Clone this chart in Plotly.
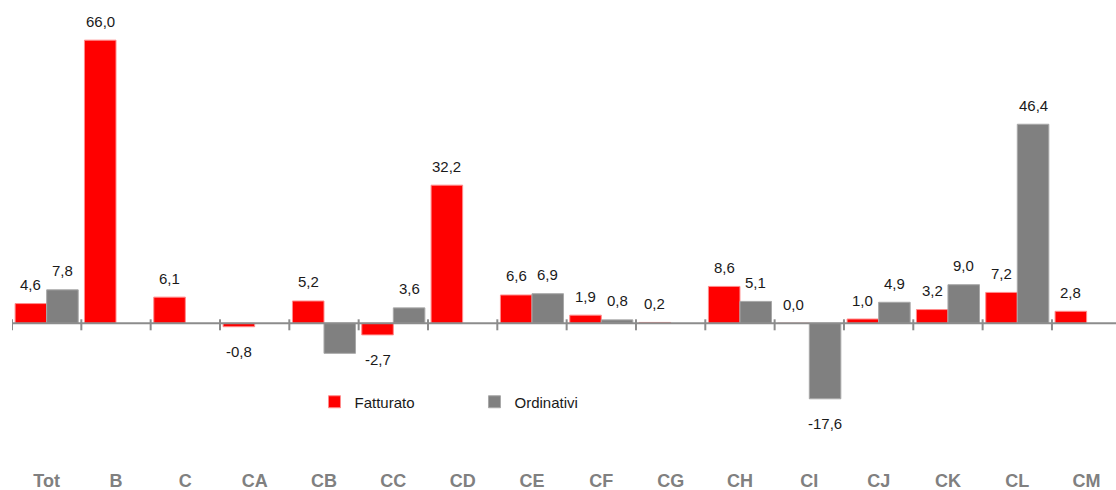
import plotly.graph_objects as go

categories = ["Tot", "B", "C", "CA", "CB", "CC", "CD", "CE", "CF", "CG",
              "CH", "CI", "CJ", "CK", "CL", "CM"]
fatturato = [4.6, 66.0, 6.1, -0.8, 5.2, -2.7, 32.2, 6.6, 1.9, 0.2,
             8.6, 0.0, 1.0, 3.2, 7.2, 2.8]
ordinativi = [7.8, None, None, None, -7.0, 3.6, None, 6.9, 0.8, None,
              5.1, -17.6, 4.9, 9.0, 46.4, None]
ordinativi_hidden_labels = ["CB"]

RED = "#ff0000"
GRAY = "#808080"
FONT = "Liberation Sans, Arial, sans-serif"
BARGAP = 0.09

fig = go.Figure()
fig.add_trace(go.Bar(name="Fatturato", x=categories, y=fatturato,
                     marker=dict(color=RED, line=dict(color="#ff8c8c", width=1))))
fig.add_trace(go.Bar(name="Ordinativi", x=categories, y=ordinativi,
                     marker=dict(color=GRAY, line=dict(color="#a8a8a8", width=1))))

half = (1 - BARGAP) / 4.0
ann = []
def fmt(v):
    return f"{v:.1f}".replace(".", ",")
for i, c in enumerate(categories):
    for vals, off, name in ((fatturato, -half, "F"), (ordinativi, half, "O")):
        v = vals[i]
        if v is None:
            continue
        if name == "O" and c in ordinativi_hidden_labels:
            continue
        ann.append(dict(x=i + off, y=v, xref="x", yref="y", text=fmt(v),
                        showarrow=False, yanchor="middle",
                        yshift=19 if v >= 0 else -25,
                        font=dict(family=FONT, size=15, color="#1a1a1a")))

shapes = [dict(type="line", xref="x", yref="y", x0=-0.5, x1=len(categories) + 1,
               y0=0, y1=0, line=dict(color="#8c8c8c", width=2), layer="above")]
for i in range(len(categories) + 1):
    shapes.append(dict(type="line", xref="x", yref="y", ysizemode="pixel", yanchor=0,
                       x0=i - 0.5, x1=i - 0.5, y0=-7, y1=4,
                       line=dict(color="#8c8c8c", width=2), layer="above"))

T, B, L = 10, 32, 12
H, W = 490, 1116
zero_px = 323.3
scale = 4.29
y_top = (zero_px - T) / scale
y_bot = -((H - B) - zero_px) / scale
x_right = -0.5 + (W - L) / 69.33

fig.update_layout(
    width=W, height=H,
    margin=dict(l=L, r=0, t=T, b=B, autoexpand=False),
    plot_bgcolor="white", paper_bgcolor="white",
    barmode="group", bargap=BARGAP, bargroupgap=0,
    xaxis=dict(range=[-0.5, x_right], showgrid=False, zeroline=False, showline=False,
               ticks="", automargin=False, ticklabelstandoff=10,
               tickfont=dict(family=FONT, size=18, color="#808080", weight="bold"),
               fixedrange=True),
    yaxis=dict(range=[y_bot, y_top], showgrid=False, zeroline=False, showline=False,
               showticklabels=False, ticks="", automargin=False, fixedrange=True),
    legend=dict(orientation="h", x=0.274, xanchor="left", y=0.125, yanchor="middle",
                font=dict(family=FONT, size=15, color="#1a1a1a"),
                itemwidth=30, entrywidth=115, bgcolor="rgba(0,0,0,0)"),
    shapes=shapes,
    annotations=ann,
    showlegend=True,
)
fig.write_html("out.html", config={"displayModeBar": False},
               post_script="document.body.style.margin='0';document.body.style.padding='0';")
